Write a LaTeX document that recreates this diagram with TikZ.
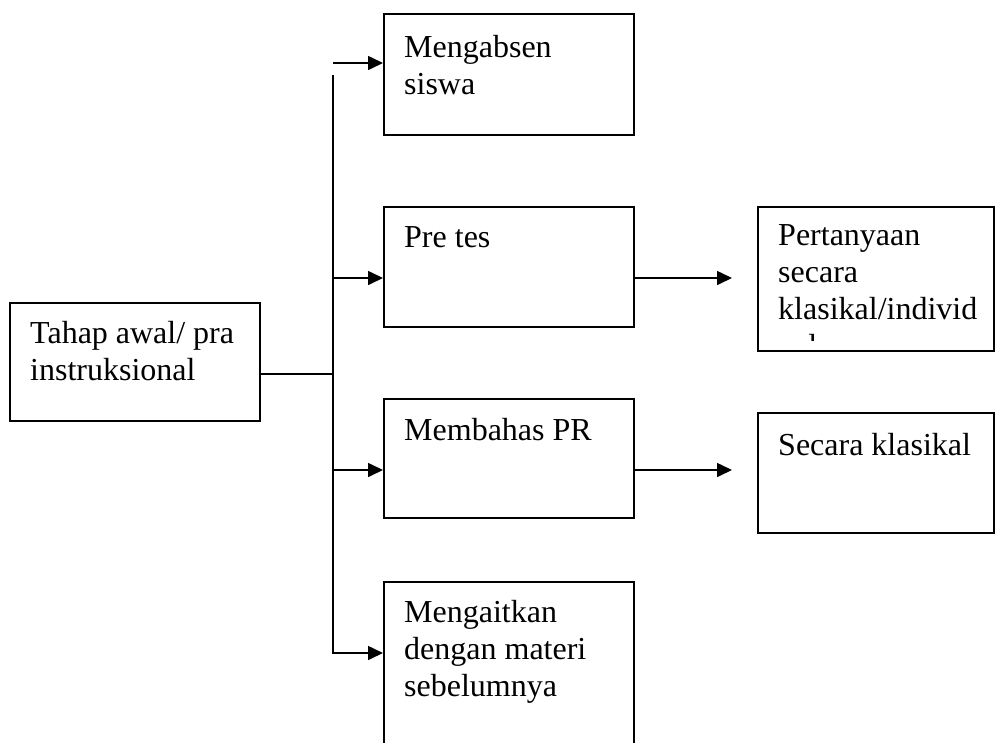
\documentclass[tikz,border=0pt]{standalone}
\usepackage{fontspec}
\setmainfont{Liberation Serif}
\usetikzlibrary{arrows.meta}
\begin{document}
\begin{tikzpicture}[x=1pt,y=-1pt,
  box/.style={draw, line width=1.6pt, rectangle, inner sep=0pt},
  label/.style={anchor=north west, inner sep=0pt, align=left,
    font=\fontsize{32}{37}\selectfont},
  wire/.style={line width=1.6pt},
  arr/.style={line width=1.6pt, -{Triangle[length=15pt,width=14pt]}}]
\useasboundingbox (0,0) rectangle (995,742);

% boxes: corners in picture units
\newcommand{\boxat}[5]{\node[box, minimum width=#4-#2, minimum height=#5-#3, anchor=north west] (#1) at (#2,#3) {};}
\boxat{tahap}{9}{302}{259}{420}
\boxat{absen}{383}{13}{633}{134}
\boxat{pretes}{383}{206}{633}{326}
\boxat{bahas}{383}{398}{633}{517}
\boxat{kait}{383}{581}{633}{790}
\boxat{tanya}{757}{206}{993}{350}
\boxat{klas}{757}{412}{993}{532}

% texts (north = baseline - strut height)
\node[label] (ttahap) at (30,343-25.9) {\strut Tahap awal/ pra\\instruksional};
\node[label] (tabsen) at (404,57-25.9) {\strut Mengabsen\\siswa};
\node[label] (tpretes) at (404,247-25.9) {\strut Pre tes};
\node[label] (tbahas) at (404,440-25.9) {\strut Membahas PR};
\node[label] (tkait) at (404,622-25.9) {\strut Mengaitkan\\dengan materi\\sebelumnya};
\begin{scope}
  % the text area ends a little above the lower border
  \clip (tanya.north west) rectangle (tanya.east |- 0,340);
  \node[label] (ttanya) at (778,245-25.9) {\strut Pertanyaan\\secara\\klasikal/individ\\ual};
\end{scope}
\node[label] (tklas) at (778,455-25.9) {\strut Secara klasikal};

% trunk and branches
\coordinate (jn) at (333,374);
\coordinate (vtop) at (333,75);
\coordinate (a1) at (333,63);
\coordinate (a2) at (333,278);
\coordinate (a3) at (333,470);
\coordinate (a4) at (333,653);

\draw[wire] (tahap.east |- jn) -- (jn);
\draw[arr] (vtop) -- (a4) -- (a4 -| kait.west);
\draw[arr] (a1) -- (a1 -| absen.west);
\draw[arr] (a2) -- (a2 -| pretes.west);
\draw[arr] (a3) -- (a3 -| bahas.west);

\draw[arr, shorten >=25pt] (pretes.east |- a2) -- (a2 -| tanya.west);
\draw[arr, shorten >=25pt] (bahas.east |- a3) -- (a3 -| klas.west);
\end{tikzpicture}
\end{document}
